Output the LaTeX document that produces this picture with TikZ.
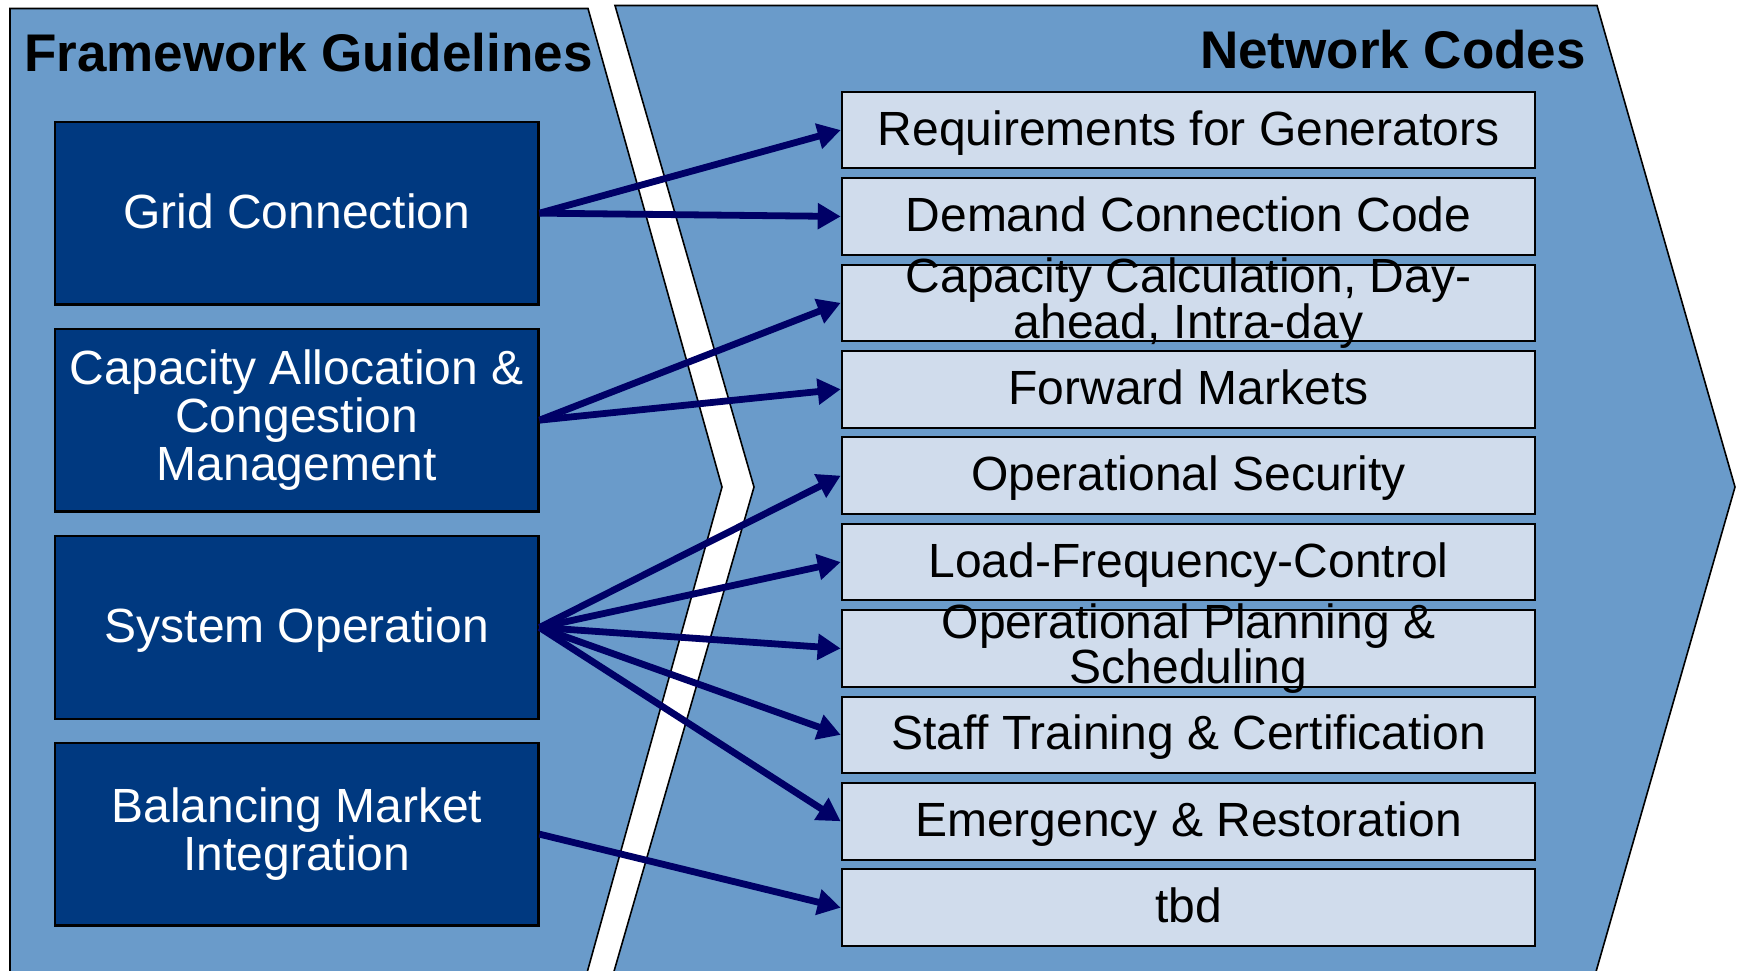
\documentclass[tikz,border=0pt]{standalone}
\usepackage{fontspec}
\setmainfont{Liberation Sans}
\usetikzlibrary{arrows.meta}
\definecolor{shapeblue}{RGB}{106,155,202}
\definecolor{darkbox}{RGB}{0,57,128}
\definecolor{lightbox}{RGB}{208,220,236}
\definecolor{arrowblue}{RGB}{0,0,102}
\begin{document}
\begin{tikzpicture}[x=1pt,y=-1pt,
  panel/.style={draw=black,line width=1.6pt,fill=shapeblue},
  gbox/.style={draw=black,line width=2.2pt,fill=darkbox,minimum width=483.3pt,minimum height=182.7pt,inner sep=0pt,anchor=north west},
  cbox/.style={draw=black,line width=2pt,fill=lightbox,minimum width=693.6pt,minimum height=76.7pt,inner sep=0pt,anchor=north west},
  gtext/.style={text=white,align=center,inner sep=0pt,font=\fontsize{48pt}{48pt}\selectfont},
  ctext/.style={text=black,align=center,inner sep=0pt,font=\fontsize{48pt}{43.5pt}\selectfont},
  oneline/.style={text height=38pt,text depth=8pt},
  title/.style={text=black,inner sep=0pt,font=\fontsize{53pt}{53pt}\selectfont\bfseries},
  arr/.style={draw=arrowblue,line width=6.8pt,-{Triangle[length=23pt,width=25pt]}}
]
\useasboundingbox (0,0) rectangle (1737,970);
\clip (0,0) rectangle (1737,970);
\fill[white] (0,0) rectangle (1737,970);
% panels
\draw[panel] (10,8.5) -- (588,8.5) -- (722,487) -- (585,980) -- (10,980) -- cycle;
\draw[panel] (615,5.5) -- (1597,5.5) -- (1735,487) -- (1593.6,980) -- (611.5,980) -- (754,487) -- cycle;
% titles
\node[title,anchor=base west] (fg) at (24,71) {Framework Guidelines};
\node[title,anchor=base east] (nc) at (1586,68) {Network Codes};
% framework guideline boxes
\node[gbox] (g1) at (54,120.7) {};
\node[gbox] (g2) at (54,327.7) {};
\node[gbox] (g3) at (54,535) {};
\node[gbox] (g4) at (54,741.7) {};
\node[gtext,oneline] (tg1) at (g1.center) {Grid Connection};
\node[gtext] (tg2) at (g2.center) {Capacity Allocation \&\\Congestion\\Management};
\node[gtext,oneline] (tg3) at (g3.center) {System Operation};
\node[gtext] (tg4) at (g4.center) {Balancing Market\\Integration};
% network code boxes
\node[cbox] (r1) at (840.7,90.7) {};
\node[cbox] (r2) at (840.7,177.1) {};
\node[cbox] (r3) at (840.7,263.5) {};
\node[cbox] (r4) at (840.7,349.9) {};
\node[cbox] (r5) at (840.7,436.3) {};
\node[cbox] (r6) at (840.7,522.7) {};
\node[cbox] (r7) at (840.7,609.1) {};
\node[cbox] (r8) at (840.7,695.5) {};
\node[cbox] (r9) at (840.7,781.9) {};
\node[cbox] (r10) at (840.7,868.3) {};
\node[ctext,oneline] (tr1) at (r1.center) {Requirements for Generators};
\node[ctext,oneline] (tr2) at (r2.center) {Demand Connection Code};
\node[ctext] (tr3) at (r3.center) {Capacity Calculation, Day-\\ahead, Intra-day};
\node[ctext,oneline] (tr4) at (r4.center) {Forward Markets};
\node[ctext,oneline] (tr5) at (r5.center) {Operational Security};
\node[ctext,oneline] (tr6) at (r6.center) {Load-Frequency-Control};
\node[ctext] (tr7) at (r7.center) {Operational Planning \&\\Scheduling};
\node[ctext,oneline] (tr8) at (r8.center) {Staff Training \& Certification};
\node[ctext,oneline] (tr9) at (r9.center) {Emergency \& Restoration};
\node[ctext,oneline] (tr10) at (r10.center) {tbd};
% connectors
\draw[arr] (g1.east) -- (r1.west);
\draw[arr] (g1.east) -- (r2.west);
\draw[arr] (g2.east) -- (r3.west);
\draw[arr] (g2.east) -- (r4.west);
\draw[arr] (g3.east) -- (r5.west);
\draw[arr] (g3.east) -- (r6.west);
\draw[arr] (g3.east) -- (r7.west);
\draw[arr] (g3.east) -- (r8.west);
\draw[arr] (g3.east) -- (r9.west);
\draw[arr] (g4.east) -- (r10.west);
\end{tikzpicture}
\end{document}
